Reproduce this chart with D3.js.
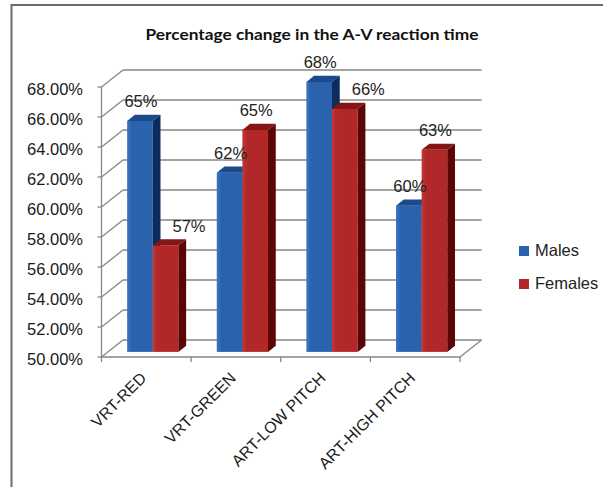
<!DOCTYPE html>
<html>
<head>
<meta charset="utf-8">
<script src="https://cdn.jsdelivr.net/npm/d3@7"></script>
<style>
  html, body { margin: 0; padding: 0; background: #fff; }
  svg { display: block; }
  text { font-family: "Liberation Sans", Arial, sans-serif; }
</style>
</head>
<body>
<svg id="chart" width="603" height="487"></svg>
<script>
// Percentage change in A-V reaction time by test and sex
const categories = ["VRT-RED", "VRT-GREEN", "ART-LOW PITCH", "ART-HIGH PITCH"];
const seriesNames = ["Males", "Females"];
const males   = [0.654, 0.6195, 0.680, 0.5975];
const females = [0.571, 0.648, 0.662, 0.6347];
const yTicks = [0.50, 0.52, 0.54, 0.56, 0.58, 0.60, 0.62, 0.64, 0.66, 0.68];
const title = "Percentage change in the A-V reaction time";

const palette = {
  Males:   { front: "#2A62AE", light: "#3B76C2", top: "#1C4A8E", side: "#0B2C5C" },
  Females: { front: "#B22727", light: "#C23838", top: "#861515", side: "#5A0606" }
};

const svg = d3.select("#chart");

// Oblique 3D projection: front plane + depth vector
const frontLeft = 101.5, frontRight = 460, baseY = 357;
const depth = { dx: 21.5, dy: -17 };
const barOffset = 0.3;   // fraction of depth where bar fronts sit
const barDepth = 0.36;   // fraction of depth a bar occupies

const y = d3.scaleLinear().domain([0.50, 0.68]).range([baseY, 87]);
const x0 = d3.scaleBand().domain(categories).range([frontLeft, frontRight]).paddingInner(0).paddingOuter(0);
const groupFrac = 0.572;
const x1 = d3.scaleBand().domain(seriesNames)
  .range([x0.bandwidth() * (1 - groupFrac) / 2, x0.bandwidth() * (1 + groupFrac) / 2]);

// Outer frame (top and left edges)
svg.append("line").attr("x1", 11.5).attr("x2", 603).attr("y1", 5).attr("y2", 5)
  .attr("stroke", "#6b6b6b").attr("stroke-width", 2);
svg.append("line").attr("x1", 11.5).attr("x2", 11.5).attr("y1", 4).attr("y2", 487)
  .attr("stroke", "#6b6b6b").attr("stroke-width", 2);

// Title
svg.append("text").attr("x", 312).attr("y", 40)
  .attr("text-anchor", "middle").attr("font-size", 16).attr("font-weight", "bold")
  .style("font-family", "Lato, 'Liberation Sans', sans-serif")
  .attr("fill", "#111").text(title)
  .attr("textLength", 333).attr("lengthAdjust", "spacingAndGlyphs");

const grid = svg.append("g").attr("stroke", "#868686").attr("stroke-width", 1.3).attr("fill", "none");

// Back wall gridlines
grid.selectAll("line.back").data(yTicks).join("line").attr("class", "back")
  .attr("x1", frontLeft + depth.dx).attr("x2", frontRight + depth.dx)
  .attr("y1", d => y(d) + depth.dy).attr("y2", d => y(d) + depth.dy);

// Side wall diagonals
grid.selectAll("line.diag").data(yTicks).join("line").attr("class", "diag")
  .attr("x1", frontLeft).attr("x2", frontLeft + depth.dx)
  .attr("y1", d => y(d)).attr("y2", d => y(d) + depth.dy);

// Front value axis and ticks
grid.append("line").attr("x1", frontLeft).attr("x2", frontLeft)
  .attr("y1", y(0.68)).attr("y2", y(0.50));
grid.selectAll("line.ytick").data(yTicks).join("line").attr("class", "ytick")
  .attr("x1", frontLeft - 4).attr("x2", frontLeft)
  .attr("y1", d => y(d)).attr("y2", d => y(d));

// Floor front edge, right edge and category ticks
grid.append("line").attr("x1", frontLeft).attr("x2", frontRight).attr("y1", baseY).attr("y2", baseY);
grid.append("line").attr("x1", frontRight).attr("x2", frontRight + depth.dx)
  .attr("y1", baseY).attr("y2", baseY + depth.dy);
const edges = categories.map(c => x0(c)).concat([frontRight]);
grid.selectAll("line.xtick").data(edges).join("line").attr("class", "xtick")
  .attr("x1", d => d).attr("x2", d => d).attr("y1", baseY).attr("y2", baseY + 5);

// Y tick labels
const pct2 = d3.format(".2%");
svg.append("g").selectAll("text").data(yTicks).join("text")
  .attr("x", 83).attr("y", d => y(d) + 2).attr("dy", "0.35em")
  .attr("text-anchor", "end").attr("font-size", 16.5).attr("fill", "#1a1a1a")
  .text(d => pct2(d));

// Gradients for bar fronts
const defs = svg.append("defs");
seriesNames.forEach(s => {
  const g = defs.append("linearGradient").attr("id", "grad-" + s).attr("x1", 0).attr("x2", 1).attr("y1", 0).attr("y2", 0);
  g.append("stop").attr("offset", "0%").attr("stop-color", palette[s].light);
  g.append("stop").attr("offset", "18%").attr("stop-color", palette[s].front);
  g.append("stop").attr("offset", "100%").attr("stop-color", palette[s].front);
});

// Bars
const bars = [];
categories.forEach((c, i) => {
  [["Males", males[i]], ["Females", females[i]]].forEach(([s, v]) => {
    bars.push({ cat: c, series: s, value: v });
  });
});

const ox = depth.dx * barOffset, oy = depth.dy * barOffset;
const bx = depth.dx * barDepth, by = depth.dy * barDepth;
const bw = x1.bandwidth();

bars.forEach(d => {
  d.x = x0(d.cat) + x1(d.series) + ox;
  d.yTop = y(d.value) + oy;
  d.yBot = baseY + oy;
});

const barG = svg.append("g");
bars.forEach(d => {
  const g = barG.append("g");
  // front face
  g.append("rect").attr("x", d.x).attr("y", d.yTop).attr("width", bw).attr("height", d.yBot - d.yTop)
    .attr("fill", `url(#grad-${d.series})`);
  // top face
  g.append("path").attr("d", `M${d.x},${d.yTop} L${d.x + bx},${d.yTop + by} L${d.x + bw + bx},${d.yTop + by} L${d.x + bw},${d.yTop} Z`)
    .attr("fill", palette[d.series].top);
  // side face
  g.append("path").attr("d", `M${d.x + bw},${d.yTop} L${d.x + bw + bx},${d.yTop + by} L${d.x + bw + bx},${d.yBot + by} L${d.x + bw},${d.yBot} Z`)
    .attr("fill", palette[d.series].side);
});

// Data labels, nudged right when they would sit over a taller neighbouring bar
const pct0 = d3.format(".0%");
const labelG = svg.append("g");
bars.forEach((d, i) => {
  let cx = d.x + bw / 2 + 1;
  const ly = d.yTop + by - 7.5;
  const lbl = labelG.append("text").attr("x", cx).attr("y", ly)
    .attr("text-anchor", "middle").attr("font-size", 16.5).attr("fill", "#222")
    .text(pct0(d.value));
  const w = lbl.node().getComputedTextLength();
  const prev = d.series === "Females" ? bars[i - 1] : null;
  if (prev && prev.yTop < ly) {
    const clear = prev.x + bw + bx + 12;
    if (cx - w / 2 < clear) { cx = clear + w / 2; lbl.attr("x", cx); }
  }
});

// Category labels
svg.append("g").selectAll("text").data(categories).join("text")
  .attr("transform", c => `translate(${x0(c) + x0.bandwidth() / 2 + 1},${379}) rotate(-45)`)
  .attr("text-anchor", "end").attr("font-size", 16).attr("fill", "#1a1a1a")
  .text(c => c);

// Legend
const legend = svg.append("g");
seriesNames.forEach((s, i) => {
  legend.append("rect").attr("x", 519).attr("y", 246 + i * 33).attr("width", 10).attr("height", 10)
    .attr("fill", palette[s].front);
  legend.append("text").attr("x", 535).attr("y", 256 + i * 33).attr("font-size", 16.5).attr("fill", "#222")
    .text(s);
});
</script>
</body>
</html>
